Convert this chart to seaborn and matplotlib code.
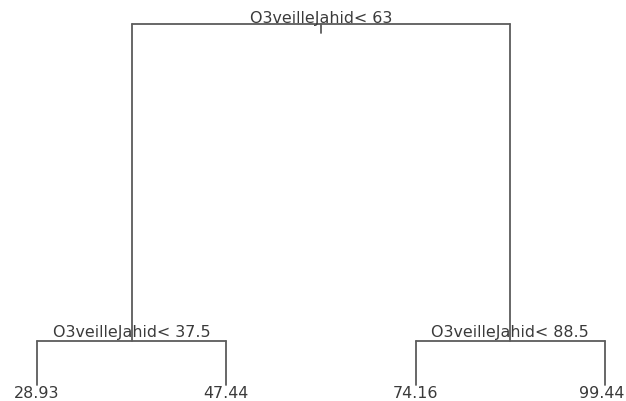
import matplotlib
matplotlib.use("Agg")
import matplotlib.pyplot as plt
import seaborn as sns
import pandas as pd
import numpy as np

# Tree data (rpart-style regression tree)
split_labels = ["O3veilleJahid< 63", "O3veilleJahid< 37.5", "O3veilleJahid< 88.5"]
leaf_values = ["28.93", "47.44", "74.16", "99.44"]
leaf_pos = [1, 2, 3, 4]
# node heights (relative deviance): root, left split, right split; leaves at 0
node_heights = [1.0, 0.122, 0.122]
leaf_height = 0.0

sns.set_style("white")
plt.rcParams['font.family'] = ['DejaVu Sans']

fig = plt.figure(figsize=(6.26, 4.01), dpi=100)
ax = fig.add_axes([0, 0, 1, 1])

# node x positions
lx = (leaf_pos[0] + leaf_pos[1]) / 2
rx = (leaf_pos[2] + leaf_pos[3]) / 2
root_x = (lx + rx) / 2

segs = []
def seg(uid, x0, y0, x1, y1):
    segs.append({"u": uid, "x": x0, "y": y0, "o": 0})
    segs.append({"u": uid, "x": x1, "y": y1, "o": 1})

# root: horizontal bar + children verticals
seg(0, lx, node_heights[0], rx, node_heights[0])
seg(1, lx, node_heights[0], lx, node_heights[1])
seg(2, rx, node_heights[0], rx, node_heights[2])
# left split
seg(3, leaf_pos[0], node_heights[1], leaf_pos[1], node_heights[1])
seg(4, leaf_pos[0], node_heights[1], leaf_pos[0], leaf_height)
seg(5, leaf_pos[1], node_heights[1], leaf_pos[1], leaf_height)
# right split
seg(6, leaf_pos[2], node_heights[2], leaf_pos[3], node_heights[2])
seg(7, leaf_pos[2], node_heights[2], leaf_pos[2], leaf_height)
seg(8, leaf_pos[3], node_heights[2], leaf_pos[3], leaf_height)
# root stem tick
seg(9, root_x, node_heights[0], root_x, node_heights[0] - 0.025)

df = pd.DataFrame(segs)
sns.lineplot(data=df, x="x", y="y", units="u", estimator=None, sort=False,
             color="#5c5c5c", linewidth=1.3, ax=ax, legend=False)

# axis limits map leaves to reference pixel positions
px_per_unit_x = (605 - 37) / 3
ax.set_xlim(1 - 37 / px_per_unit_x, 4 + (626 - 605) / px_per_unit_x)
px_per_unit_y = (385 - 24)
ax.set_ylim(-(401 - 385) / px_per_unit_y, 1 + 24 / px_per_unit_y)
ax.set_axis_off()

fs = 11.4
tc = "#3a3a3a"
ax.annotate(split_labels[0], (root_x, node_heights[0]), xytext=(0, 1.0),
            textcoords="offset points", ha="center", va="baseline", fontsize=fs, color=tc)
ax.annotate(split_labels[1], (lx, node_heights[1]), xytext=(0, 3.0),
            textcoords="offset points", ha="center", va="baseline", fontsize=fs, color=tc)
ax.annotate(split_labels[2], (rx, node_heights[2]), xytext=(0, 3.0),
            textcoords="offset points", ha="center", va="baseline", fontsize=fs, color=tc)
for i, (p, v) in enumerate(zip(leaf_pos, leaf_values)):
    dx = -2.5 if i == len(leaf_pos) - 1 else 0
    ax.annotate(v, (p, leaf_height), xytext=(dx, -9.0), textcoords="offset points",
                ha="center", va="baseline", fontsize=fs, color=tc)

fig.savefig("out.png", dpi=100)
